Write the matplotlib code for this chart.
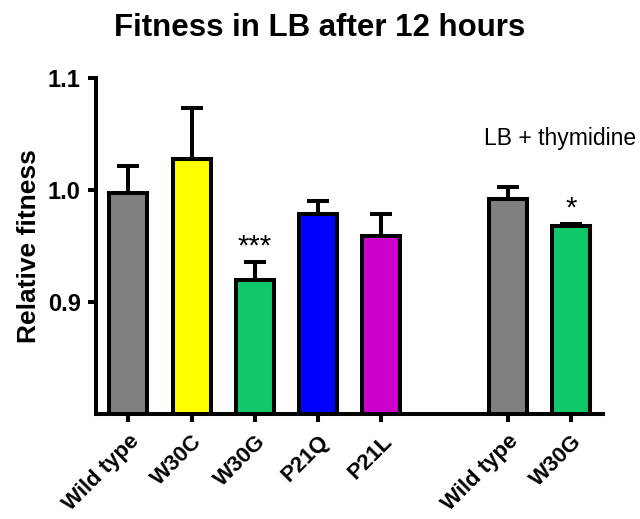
import matplotlib
matplotlib.use("Agg")
import matplotlib.pyplot as plt

# Strains and measured relative fitness (mean and upper SEM)
labels = ["Wild type", "W30C", "W30G", "P21Q", "P21L", "Wild type", "W30G"]
positions = [0, 1, 2, 3, 4, 6, 7]
means = [0.997, 1.028, 0.920, 0.979, 0.959, 0.992, 0.968]
errors = [0.024, 0.045, 0.016, 0.011, 0.020, 0.011, 0.002]
colors = ["#808080", "#FFFF00", "#10C86A", "#0000FF", "#CC00CC", "#808080", "#10C86A"]
stars = {2: "***", 7: "*"}

plt.rcParams["font.family"] = ["Liberation Sans", "DejaVu Sans"]

fig = plt.figure(figsize=(6.4, 5.19), dpi=100)
ax = fig.add_axes([0.15, 0.2023, 0.792, 0.6474])

lw = 2.9
ax.bar(positions, means, width=0.6, bottom=0, color=colors,
       edgecolor="black", linewidth=lw, zorder=2)
ax.errorbar(positions, means, yerr=[[0] * len(errors), errors], fmt="none",
            ecolor="black", elinewidth=lw, capsize=8, capthick=lw, zorder=1)

for idx, txt in stars.items():
    i = positions.index(idx)
    ax.text(idx, means[i] + errors[i] + 0.001, txt, ha="center", va="bottom",
            fontsize=21)

ax.text(6.82, 1.046, "LB + thymidine", ha="center", va="center", fontsize=16.5)

ax.set_xlim(-0.51, 7.5)
ax.set_ylim(0.8, 1.1)
ax.set_yticks([0.9, 1.0, 1.1])
ax.set_yticklabels(["0.9", "1.0", "1.1"], fontsize=17, fontweight="bold")
ax.set_xticks(positions)
ax.set_xticklabels(labels, rotation=45, ha="right", rotation_mode="anchor",
                   fontsize=16, fontweight="bold")
ax.tick_params(axis="both", direction="out", length=6, width=lw)
ax.tick_params(axis="x", pad=6)
ax.tick_params(axis="y", pad=5)

for side in ("top", "right"):
    ax.spines[side].set_visible(False)
for side in ("left", "bottom"):
    ax.spines[side].set_linewidth(lw)

ax.set_ylabel("Relative fitness", fontsize=19, fontweight="bold", labelpad=5)
fig.suptitle("Fitness in LB after 12 hours", fontsize=22.5, fontweight="bold",
             y=0.975)

fig.savefig("out.png", dpi=100)
